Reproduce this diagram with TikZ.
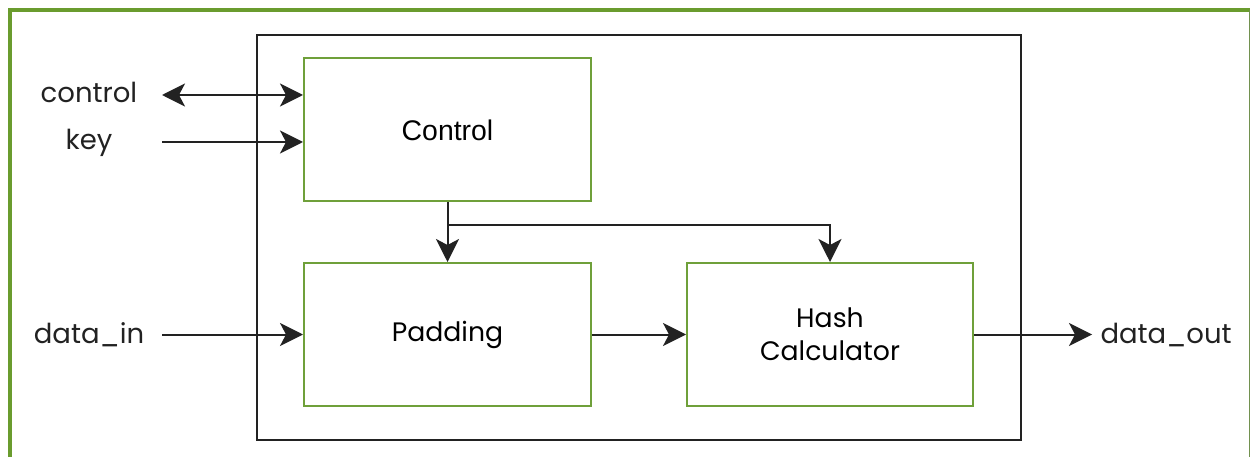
\documentclass[tikz,border=0pt]{standalone}
\usepackage{fontspec}
\setmainfont{Poppins}
\newfontfamily\arialfont{Liberation Sans}
\usepackage{xcolor}
\usepackage{tikz}
\usetikzlibrary{arrows.meta,calc}
\definecolor{frame}{HTML}{6A9C2E}
\definecolor{leaf}{HTML}{6FA03A}
\definecolor{ink}{HTML}{222222}
\tikzset{
  lab/.style={text=ink, font=\fontsize{27.5}{32}\selectfont, anchor=base},
  blk/.style={draw=leaf, line width=2pt, minimum width=287pt, minimum height=143pt,
    text=black, font=\fontsize{26.7}{33}\selectfont, align=center},
  wire/.style={draw=ink, line width=2pt, -{Stealth[length=23pt,width=23pt,inset=6pt]}},
  shell/.style={draw=ink, line width=2pt}
}
\begin{document}
\begin{tikzpicture}[x=1pt,y=-1pt]
\useasboundingbox (0,0) rectangle (1250,457);
% outer frame
\draw[frame, line width=4.5pt] (10,462) -- (10,10) -- (1252,10);
\draw[frame!60!gray, line width=1pt] (1249,10) -- (1249,462);
\draw[shell] (257,35) rectangle (1021,440);

\node[blk] (ctrl) at (447.5,130) {\arialfont\fontsize{28.4}{33}\selectfont Control};
\node[blk] (pad) at (447.5,334.5) {Padding};
\node[blk, minimum width=286pt] (hash) at (830,334.5) {Hash\\Calculator};

\node[lab] (lctrl) at (89,103) {control};
\node[lab] (lkey) at (89,150) {key};
\node[lab] (lin) at (89,343) {data\_in};
\coordinate (cin) at (162,95);
\coordinate (kin) at (162,142);
\coordinate (din) at (162,334.5);
\coordinate (dout) at (1092,334.5);
\node[lab, anchor=base west] (lout) at (1097,343) {data\_out};
\coordinate (split) at (448,225);

\draw[wire, {Stealth[length=23pt,width=23pt,inset=6pt]}-{Stealth[length=23pt,width=23pt,inset=6pt]}] (cin) -- (cin -| ctrl.west);
\draw[wire] (kin) -- (kin -| ctrl.west);
\draw[wire] (din) -- (din -| pad.west);
\draw[wire] (ctrl.south) -- (pad.north);
\draw[wire] (split) -| (hash.north);
\draw[wire] (pad.east) -- (hash.west);
\draw[wire] (hash.east) -- (dout);
\end{tikzpicture}
\end{document}
